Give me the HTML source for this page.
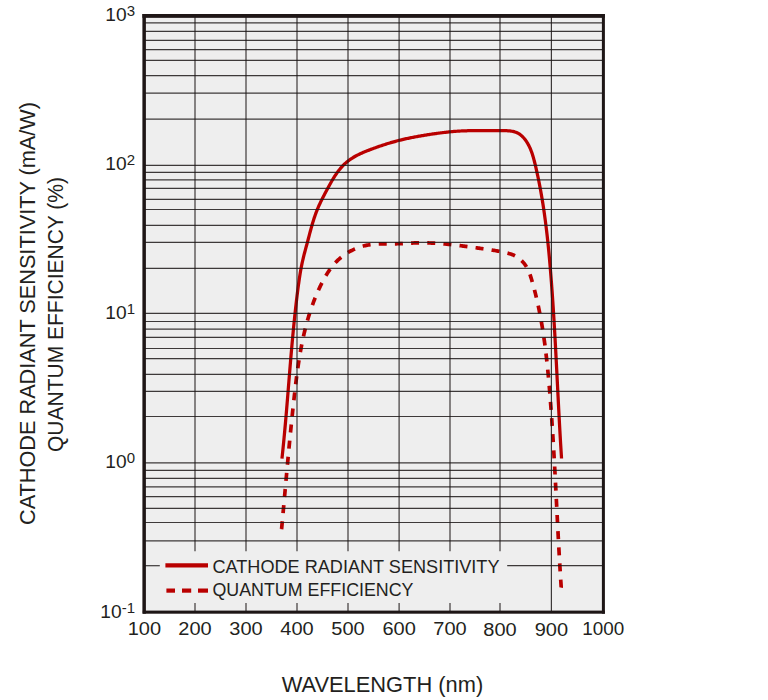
<!DOCTYPE html>
<html><head><meta charset="utf-8"><style>
html,body{margin:0;padding:0;background:#ffffff;width:768px;height:700px;overflow:hidden}
svg{display:block}
</style></head><body>
<svg width="768" height="700" viewBox="0 0 768 700">
<rect x="144.4" y="15.7" width="458.9" height="596.5" fill="#eeeeee"/>
<path d="M282.00 458.60 L282.07 457.60 L282.17 456.61 L282.28 455.61 L282.39 454.62 L282.49 453.62 L282.60 452.63 L282.70 451.63 L282.80 450.64 L282.91 449.64 L283.01 448.65 L283.11 447.65 L283.21 446.66 L283.31 445.66 L283.41 444.67 L283.51 443.67 L283.61 442.68 L283.70 441.68 L283.80 440.69 L283.90 439.69 L283.99 438.70 L284.09 437.70 L284.18 436.71 L284.28 435.71 L284.37 434.71 L284.46 433.72 L284.56 432.72 L284.65 431.73 L284.74 430.73 L284.83 429.74 L284.92 428.74 L285.01 427.74 L285.10 426.75 L285.19 425.75 L285.28 424.76 L285.37 423.76 L285.46 422.76 L285.55 421.77 L285.63 420.77 L285.72 419.77 L285.81 418.78 L285.89 417.78 L285.98 416.79 L286.06 415.79 L286.15 414.79 L286.24 413.80 L286.32 412.80 L286.40 411.80 L286.49 410.81 L286.57 409.81 L286.66 408.81 L286.74 407.82 L286.82 406.82 L286.91 405.82 L286.99 404.83 L287.07 403.83 L287.15 402.83 L287.24 401.84 L287.32 400.84 L287.40 399.84 L287.48 398.85 L287.56 397.85 L287.64 396.85 L287.73 395.86 L287.81 394.86 L287.89 393.86 L287.97 392.87 L288.05 391.87 L288.13 390.87 L288.21 389.88 L288.29 388.88 L288.37 387.88 L288.45 386.89 L288.53 385.89 L288.62 384.89 L288.70 383.90 L288.78 382.90 L288.86 381.90 L288.94 380.91 L289.02 379.91 L289.10 378.91 L289.18 377.92 L289.26 376.92 L289.34 375.92 L289.42 374.93 L289.50 373.93 L289.59 372.93 L289.67 371.94 L289.75 370.94 L289.83 369.94 L289.91 368.95 L289.99 367.95 L290.08 366.95 L290.16 365.96 L290.24 364.96 L290.33 363.96 L290.41 362.97 L290.49 361.97 L290.57 360.97 L290.66 359.98 L290.74 358.98 L290.83 357.98 L290.91 356.99 L291.00 355.99 L291.08 355.00 L291.17 354.00 L291.25 353.00 L291.34 352.01 L291.43 351.01 L291.51 350.01 L291.60 349.02 L291.69 348.02 L291.77 347.03 L291.86 346.03 L291.95 345.03 L292.04 344.04 L292.13 343.04 L292.22 342.05 L292.31 341.05 L292.40 340.05 L292.49 339.06 L292.58 338.06 L292.68 337.07 L292.77 336.07 L292.86 335.08 L292.96 334.08 L293.05 333.09 L293.15 332.09 L293.24 331.09 L293.34 330.10 L293.43 329.10 L293.53 328.11 L293.63 327.11 L293.73 326.12 L293.83 325.12 L293.93 324.13 L294.03 323.13 L294.13 322.14 L294.23 321.14 L294.33 320.15 L294.43 319.15 L294.54 318.16 L294.64 317.17 L294.74 316.17 L294.85 315.18 L294.96 314.18 L295.06 313.19 L295.17 312.19 L295.28 311.20 L295.39 310.21 L295.50 309.21 L295.61 308.22 L295.72 307.22 L295.83 306.23 L295.95 305.24 L296.06 304.24 L296.17 303.25 L296.29 302.26 L296.41 301.26 L296.52 300.27 L296.64 299.28 L296.76 298.28 L296.88 297.29 L297.00 296.30 L297.12 295.30 L297.25 294.31 L297.37 293.32 L297.50 292.33 L297.62 291.33 L297.75 290.34 L297.87 289.35 L298.00 288.36 L298.13 287.36 L298.26 286.37 L298.40 285.38 L298.53 284.39 L298.67 283.40 L298.81 282.41 L298.95 281.42 L299.09 280.43 L299.23 279.44 L299.38 278.45 L299.53 277.46 L299.68 276.47 L299.84 275.48 L300.00 274.50 L300.16 273.51 L300.32 272.52 L300.49 271.54 L300.67 270.55 L300.84 269.57 L301.02 268.59 L301.21 267.61 L301.40 266.63 L301.59 265.65 L301.79 264.67 L301.99 263.69 L302.20 262.71 L302.41 261.74 L302.63 260.76 L302.85 259.79 L303.08 258.81 L303.31 257.84 L303.55 256.87 L303.79 255.90 L304.03 254.93 L304.28 253.96 L304.53 253.00 L304.79 252.03 L305.04 251.06 L305.30 250.10 L305.56 249.13 L305.82 248.17 L306.08 247.20 L306.34 246.23 L306.61 245.27 L306.87 244.30 L307.13 243.34 L307.39 242.37 L307.65 241.40 L307.90 240.43 L308.16 239.47 L308.41 238.50 L308.67 237.53 L308.92 236.56 L309.17 235.60 L309.43 234.63 L309.68 233.66 L309.94 232.69 L310.20 231.73 L310.46 230.76 L310.72 229.80 L310.98 228.83 L311.25 227.87 L311.52 226.91 L311.79 225.95 L312.07 224.99 L312.34 224.03 L312.63 223.07 L312.91 222.12 L313.21 221.16 L313.50 220.21 L313.80 219.26 L314.11 218.31 L314.42 217.37 L314.74 216.42 L315.07 215.48 L315.40 214.54 L315.74 213.60 L316.08 212.67 L316.44 211.74 L316.80 210.81 L317.17 209.88 L317.54 208.96 L317.93 208.03 L318.32 207.12 L318.72 206.20 L319.13 205.29 L319.55 204.38 L319.97 203.47 L320.39 202.56 L320.83 201.66 L321.27 200.76 L321.71 199.86 L322.16 198.96 L322.61 198.07 L323.07 197.17 L323.53 196.28 L323.99 195.39 L324.46 194.50 L324.93 193.61 L325.40 192.73 L325.87 191.84 L326.35 190.96 L326.82 190.08 L327.29 189.19 L327.77 188.31 L328.25 187.43 L328.72 186.55 L329.20 185.68 L329.68 184.80 L330.16 183.93 L330.65 183.05 L331.14 182.19 L331.63 181.32 L332.13 180.46 L332.64 179.60 L333.15 178.74 L333.67 177.89 L334.19 177.05 L334.73 176.21 L335.27 175.37 L335.83 174.54 L336.39 173.72 L336.97 172.90 L337.56 172.09 L338.16 171.29 L338.77 170.49 L339.40 169.71 L340.04 168.93 L340.69 168.16 L341.35 167.40 L342.02 166.66 L342.71 165.92 L343.41 165.20 L344.12 164.49 L344.85 163.80 L345.58 163.12 L346.33 162.46 L347.09 161.81 L347.86 161.19 L348.65 160.57 L349.45 159.98 L350.25 159.40 L351.07 158.84 L351.90 158.30 L352.74 157.77 L353.59 157.25 L354.44 156.75 L355.31 156.26 L356.18 155.79 L357.06 155.32 L357.95 154.87 L358.85 154.43 L359.75 154.00 L360.66 153.58 L361.57 153.17 L362.49 152.76 L363.41 152.36 L364.33 151.97 L365.26 151.59 L366.19 151.21 L367.13 150.84 L368.06 150.47 L369.00 150.11 L369.94 149.75 L370.88 149.39 L371.82 149.04 L372.76 148.69 L373.71 148.34 L374.65 148.00 L375.59 147.66 L376.54 147.32 L377.48 146.98 L378.43 146.65 L379.38 146.32 L380.32 146.00 L381.27 145.68 L382.22 145.36 L383.17 145.04 L384.12 144.73 L385.08 144.43 L386.03 144.12 L386.98 143.82 L387.94 143.53 L388.89 143.24 L389.85 142.95 L390.81 142.66 L391.77 142.38 L392.73 142.11 L393.69 141.84 L394.65 141.57 L395.61 141.31 L396.57 141.05 L397.54 140.80 L398.50 140.55 L399.47 140.30 L400.43 140.06 L401.40 139.83 L402.37 139.60 L403.34 139.37 L404.31 139.15 L405.28 138.93 L406.26 138.71 L407.23 138.50 L408.21 138.29 L409.18 138.09 L410.16 137.89 L411.14 137.69 L412.11 137.49 L413.09 137.30 L414.07 137.11 L415.05 136.93 L416.04 136.75 L417.02 136.57 L418.00 136.39 L418.99 136.21 L419.97 136.04 L420.96 135.87 L421.94 135.70 L422.93 135.53 L423.92 135.37 L424.91 135.20 L425.90 135.04 L426.89 134.88 L427.88 134.72 L428.87 134.57 L429.87 134.41 L430.86 134.26 L431.85 134.11 L432.85 133.96 L433.84 133.82 L434.84 133.67 L435.84 133.53 L436.83 133.39 L437.83 133.26 L438.82 133.12 L439.82 132.99 L440.82 132.86 L441.82 132.74 L442.81 132.61 L443.81 132.49 L444.81 132.38 L445.81 132.27 L446.80 132.16 L447.80 132.05 L448.80 131.95 L449.80 131.85 L450.79 131.75 L451.79 131.66 L452.79 131.57 L453.78 131.48 L454.78 131.40 L455.77 131.33 L456.77 131.25 L457.76 131.19 L458.75 131.12 L459.75 131.06 L460.74 131.00 L461.73 130.95 L462.72 130.91 L463.71 130.86 L464.71 130.82 L465.70 130.79 L466.69 130.76 L467.68 130.73 L468.67 130.70 L469.66 130.68 L470.65 130.66 L471.64 130.64 L472.63 130.63 L473.62 130.61 L474.61 130.60 L475.60 130.60 L476.59 130.59 L477.58 130.59 L478.58 130.58 L479.57 130.58 L480.57 130.58 L481.56 130.59 L482.56 130.59 L483.56 130.59 L484.56 130.60 L485.56 130.60 L486.56 130.61 L487.56 130.61 L488.56 130.62 L489.57 130.62 L490.58 130.63 L491.59 130.63 L492.60 130.64 L493.61 130.64 L494.62 130.64 L495.64 130.65 L496.65 130.65 L497.67 130.65 L498.70 130.64 L499.72 130.64 L500.75 130.64 L501.78 130.63 L502.80 130.63 L503.83 130.63 L504.86 130.64 L505.88 130.67 L506.90 130.71 L507.91 130.77 L508.92 130.85 L509.92 130.95 L510.91 131.08 L511.90 131.24 L512.87 131.43 L513.83 131.66 L514.77 131.93 L515.69 132.23 L516.60 132.59 L517.48 132.98 L518.34 133.43 L519.16 133.93 L519.96 134.47 L520.74 135.05 L521.49 135.67 L522.21 136.33 L522.91 137.02 L523.58 137.75 L524.23 138.49 L524.85 139.27 L525.45 140.06 L526.03 140.87 L526.58 141.70 L527.12 142.53 L527.63 143.38 L528.12 144.24 L528.59 145.11 L529.04 145.99 L529.47 146.88 L529.89 147.78 L530.29 148.68 L530.67 149.60 L531.04 150.52 L531.39 151.45 L531.73 152.38 L532.06 153.33 L532.37 154.27 L532.68 155.23 L532.97 156.18 L533.26 157.15 L533.53 158.11 L533.80 159.08 L534.06 160.06 L534.31 161.03 L534.56 162.01 L534.80 162.99 L535.04 163.97 L535.28 164.95 L535.51 165.93 L535.74 166.91 L535.97 167.90 L536.20 168.88 L536.42 169.86 L536.64 170.84 L536.86 171.83 L537.08 172.81 L537.29 173.79 L537.51 174.78 L537.72 175.76 L537.93 176.74 L538.13 177.73 L538.34 178.71 L538.54 179.69 L538.74 180.68 L538.94 181.66 L539.13 182.65 L539.33 183.63 L539.52 184.62 L539.71 185.60 L539.90 186.59 L540.09 187.57 L540.27 188.56 L540.45 189.54 L540.63 190.53 L540.81 191.51 L540.99 192.50 L541.16 193.49 L541.34 194.47 L541.51 195.46 L541.68 196.44 L541.85 197.43 L542.01 198.42 L542.18 199.40 L542.34 200.39 L542.50 201.38 L542.66 202.37 L542.82 203.35 L542.97 204.34 L543.13 205.33 L543.28 206.32 L543.43 207.31 L543.58 208.29 L543.73 209.28 L543.88 210.27 L544.02 211.26 L544.16 212.25 L544.31 213.24 L544.45 214.23 L544.58 215.22 L544.72 216.21 L544.86 217.19 L544.99 218.18 L545.13 219.17 L545.26 220.16 L545.39 221.15 L545.52 222.14 L545.64 223.13 L545.77 224.12 L545.89 225.12 L546.02 226.11 L546.14 227.10 L546.26 228.09 L546.38 229.08 L546.50 230.07 L546.62 231.06 L546.73 232.05 L546.85 233.04 L546.96 234.04 L547.08 235.03 L547.19 236.02 L547.30 237.01 L547.41 238.00 L547.51 239.00 L547.62 239.99 L547.73 240.98 L547.83 241.97 L547.94 242.97 L548.04 243.96 L548.14 244.95 L548.24 245.94 L548.34 246.94 L548.44 247.93 L548.54 248.92 L548.64 249.92 L548.74 250.91 L548.83 251.90 L548.93 252.90 L549.02 253.89 L549.11 254.89 L549.21 255.88 L549.30 256.87 L549.39 257.87 L549.48 258.86 L549.57 259.86 L549.66 260.85 L549.74 261.85 L549.83 262.84 L549.92 263.84 L550.00 264.83 L550.09 265.83 L550.17 266.82 L550.26 267.82 L550.34 268.81 L550.42 269.81 L550.51 270.80 L550.59 271.80 L550.67 272.79 L550.75 273.79 L550.83 274.79 L550.91 275.78 L550.99 276.78 L551.07 277.77 L551.15 278.77 L551.22 279.77 L551.30 280.76 L551.38 281.76 L551.45 282.76 L551.53 283.75 L551.60 284.75 L551.68 285.75 L551.75 286.74 L551.83 287.74 L551.90 288.74 L551.97 289.73 L552.04 290.73 L552.12 291.73 L552.19 292.73 L552.26 293.72 L552.33 294.72 L552.40 295.72 L552.47 296.72 L552.54 297.71 L552.61 298.71 L552.67 299.71 L552.74 300.71 L552.81 301.70 L552.88 302.70 L552.94 303.70 L553.01 304.70 L553.07 305.70 L553.14 306.69 L553.20 307.69 L553.27 308.69 L553.33 309.69 L553.40 310.69 L553.46 311.69 L553.52 312.68 L553.59 313.68 L553.65 314.68 L553.71 315.68 L553.77 316.68 L553.83 317.68 L553.90 318.68 L553.96 319.68 L554.02 320.67 L554.08 321.67 L554.14 322.67 L554.20 323.67 L554.26 324.67 L554.31 325.67 L554.37 326.67 L554.43 327.67 L554.49 328.67 L554.55 329.67 L554.61 330.66 L554.66 331.66 L554.72 332.66 L554.78 333.66 L554.83 334.66 L554.89 335.66 L554.95 336.66 L555.00 337.66 L555.06 338.66 L555.11 339.66 L555.17 340.66 L555.22 341.66 L555.28 342.66 L555.33 343.66 L555.39 344.66 L555.44 345.66 L555.49 346.66 L555.55 347.65 L555.60 348.65 L555.66 349.65 L555.71 350.65 L555.76 351.65 L555.82 352.65 L555.87 353.65 L555.92 354.65 L555.97 355.65 L556.03 356.65 L556.08 357.65 L556.13 358.65 L556.18 359.65 L556.23 360.65 L556.29 361.65 L556.34 362.65 L556.39 363.65 L556.44 364.65 L556.49 365.65 L556.54 366.65 L556.59 367.65 L556.65 368.65 L556.70 369.65 L556.75 370.65 L556.80 371.65 L556.85 372.65 L556.90 373.65 L556.95 374.65 L557.00 375.65 L557.05 376.65 L557.10 377.64 L557.15 378.64 L557.20 379.64 L557.25 380.64 L557.31 381.64 L557.36 382.64 L557.41 383.64 L557.46 384.64 L557.51 385.64 L557.56 386.64 L557.61 387.64 L557.66 388.64 L557.71 389.64 L557.76 390.64 L557.81 391.64 L557.86 392.64 L557.91 393.64 L557.96 394.63 L558.01 395.63 L558.07 396.63 L558.12 397.63 L558.17 398.63 L558.22 399.63 L558.27 400.63 L558.32 401.63 L558.37 402.63 L558.42 403.63 L558.48 404.62 L558.53 405.62 L558.58 406.62 L558.63 407.62 L558.68 408.62 L558.74 409.62 L558.79 410.62 L558.84 411.61 L558.89 412.61 L558.95 413.61 L559.00 414.61 L559.05 415.61 L559.10 416.61 L559.16 417.60 L559.21 418.60 L559.27 419.60 L559.32 420.60 L559.37 421.60 L559.43 422.59 L559.48 423.59 L559.54 424.59 L559.59 425.59 L559.65 426.58 L559.70 427.58 L559.76 428.58 L559.81 429.58 L559.87 430.57 L559.93 431.57 L559.98 432.57 L560.04 433.57 L560.10 434.56 L560.15 435.56 L560.21 436.56 L560.27 437.55 L560.33 438.55 L560.38 439.55 L560.44 440.54 L560.50 441.54 L560.56 442.54 L560.62 443.53 L560.68 444.53 L560.74 445.53 L560.80 446.52 L560.86 447.52 L560.92 448.51 L560.98 449.51 L561.04 450.51 L561.11 451.50 L561.17 452.50 L561.23 453.49 L561.29 454.49 L561.36 455.48 L561.42 456.48 L561.48 457.47 L561.50 458.50" fill="none" stroke="#b90000" stroke-width="3.25" stroke-linejoin="round"/>
<path d="M281.50 529.50 L281.64 528.53 L281.74 527.53 L281.83 526.53 L281.92 525.53 L282.01 524.53 L282.11 523.53 L282.20 522.53 L282.29 521.53 L282.38 520.53 L282.47 519.53 L282.56 518.53 L282.65 517.53 L282.75 516.53 L282.84 515.54 L282.93 514.54 L283.02 513.54 L283.11 512.54 L283.20 511.54 L283.29 510.54 L283.38 509.55 L283.47 508.55 L283.56 507.55 L283.65 506.55 L283.74 505.55 L283.83 504.56 L283.92 503.56 L284.01 502.56 L284.10 501.56 L284.19 500.57 L284.28 499.57 L284.37 498.57 L284.46 497.57 L284.55 496.58 L284.64 495.58 L284.73 494.58 L284.82 493.58 L284.91 492.59 L285.00 491.59 L285.09 490.59 L285.18 489.60 L285.27 488.60 L285.36 487.60 L285.45 486.61 L285.54 485.61 L285.63 484.61 L285.72 483.62 L285.81 482.62 L285.90 481.63 L285.99 480.63 L286.08 479.63 L286.17 478.64 L286.26 477.64 L286.35 476.65 L286.44 475.65 L286.53 474.65 L286.62 473.66 L286.71 472.66 L286.80 471.67 L286.89 470.67 L286.98 469.67 L287.07 468.68 L287.16 467.68 L287.25 466.69 L287.35 465.69 L287.44 464.70 L287.53 463.70 L287.62 462.70 L287.71 461.71 L287.80 460.71 L287.90 459.72 L287.99 458.72 L288.08 457.73 L288.17 456.73 L288.27 455.74 L288.36 454.74 L288.45 453.74 L288.55 452.75 L288.64 451.75 L288.73 450.76 L288.83 449.76 L288.92 448.77 L289.02 447.77 L289.11 446.78 L289.21 445.78 L289.30 444.79 L289.40 443.79 L289.49 442.80 L289.59 441.80 L289.68 440.80 L289.78 439.81 L289.88 438.81 L289.97 437.82 L290.07 436.82 L290.17 435.83 L290.26 434.83 L290.36 433.84 L290.46 432.84 L290.56 431.85 L290.66 430.85 L290.76 429.86 L290.86 428.86 L290.96 427.86 L291.05 426.87 L291.16 425.87 L291.26 424.88 L291.36 423.88 L291.46 422.89 L291.56 421.89 L291.66 420.89 L291.76 419.90 L291.87 418.90 L291.97 417.91 L292.07 416.91 L292.18 415.92 L292.28 414.92 L292.38 413.92 L292.49 412.93 L292.59 411.93 L292.70 410.94 L292.80 409.94 L292.91 408.94 L293.02 407.95 L293.12 406.95 L293.23 405.95 L293.34 404.96 L293.45 403.96 L293.56 402.97 L293.67 401.97 L293.78 400.97 L293.89 399.98 L294.00 398.98 L294.11 397.98 L294.22 396.99 L294.33 395.99 L294.44 394.99 L294.56 393.99 L294.67 393.00 L294.78 392.00 L294.90 391.00 L295.01 390.01 L295.13 389.01 L295.24 388.01 L295.36 387.02 L295.48 386.02 L295.60 385.02 L295.72 384.02 L295.84 383.03 L295.96 382.03 L296.09 381.04 L296.21 380.04 L296.34 379.04 L296.46 378.05 L296.59 377.05 L296.72 376.06 L296.85 375.06 L296.98 374.07 L297.12 373.07 L297.25 372.08 L297.39 371.08 L297.52 370.09 L297.66 369.10 L297.80 368.10 L297.95 367.11 L298.09 366.12 L298.24 365.13 L298.38 364.13 L298.53 363.14 L298.68 362.15 L298.84 361.16 L298.99 360.17 L299.15 359.18 L299.31 358.19 L299.47 357.20 L299.63 356.22 L299.80 355.23 L299.97 354.24 L300.14 353.25 L300.31 352.27 L300.49 351.28 L300.66 350.30 L300.84 349.31 L301.02 348.33 L301.21 347.35 L301.40 346.37 L301.59 345.38 L301.78 344.40 L301.97 343.42 L302.17 342.44 L302.37 341.46 L302.57 340.49 L302.78 339.51 L302.99 338.53 L303.20 337.56 L303.42 336.58 L303.63 335.61 L303.86 334.63 L304.08 333.66 L304.31 332.69 L304.54 331.72 L304.77 330.75 L305.01 329.78 L305.25 328.81 L305.49 327.84 L305.74 326.88 L305.99 325.91 L306.24 324.95 L306.50 323.99 L306.76 323.02 L307.03 322.06 L307.29 321.10 L307.57 320.14 L307.84 319.18 L308.12 318.23 L308.41 317.27 L308.69 316.32 L308.98 315.36 L309.28 314.41 L309.58 313.46 L309.88 312.51 L310.19 311.56 L310.50 310.61 L310.82 309.66 L311.14 308.72 L311.46 307.77 L311.79 306.83 L312.12 305.89 L312.46 304.95 L312.80 304.01 L313.15 303.07 L313.50 302.13 L313.85 301.20 L314.21 300.26 L314.58 299.33 L314.94 298.40 L315.32 297.47 L315.70 296.54 L316.08 295.62 L316.47 294.69 L316.86 293.77 L317.26 292.84 L317.66 291.92 L318.07 291.00 L318.48 290.08 L318.90 289.17 L319.32 288.25 L319.75 287.34 L320.19 286.43 L320.63 285.52 L321.07 284.61 L321.52 283.70 L321.98 282.80 L322.44 281.90 L322.91 281.00 L323.38 280.11 L323.87 279.22 L324.35 278.33 L324.85 277.45 L325.36 276.57 L325.87 275.70 L326.39 274.84 L326.92 273.98 L327.46 273.13 L328.00 272.28 L328.56 271.44 L329.12 270.61 L329.70 269.79 L330.28 268.97 L330.87 268.17 L331.48 267.37 L332.09 266.58 L332.72 265.80 L333.35 265.03 L334.00 264.27 L334.66 263.53 L335.33 262.79 L336.01 262.06 L336.71 261.35 L337.41 260.65 L338.13 259.96 L338.86 259.28 L339.61 258.62 L340.37 257.97 L341.13 257.33 L341.92 256.70 L342.71 256.09 L343.51 255.50 L344.32 254.91 L345.15 254.34 L345.98 253.79 L346.83 253.24 L347.68 252.72 L348.54 252.20 L349.42 251.71 L350.30 251.22 L351.18 250.75 L352.08 250.30 L352.98 249.86 L353.90 249.44 L354.81 249.03 L355.74 248.64 L356.67 248.26 L357.60 247.90 L358.55 247.55 L359.49 247.22 L360.45 246.91 L361.40 246.61 L362.36 246.33 L363.33 246.07 L364.30 245.82 L365.27 245.59 L366.24 245.38 L367.22 245.19 L368.20 245.01 L369.18 244.84 L370.17 244.70 L371.16 244.56 L372.15 244.45 L373.14 244.34 L374.13 244.25 L375.12 244.16 L376.12 244.09 L377.12 244.03 L378.12 243.98 L379.12 243.94 L380.12 243.90 L381.12 243.87 L382.13 243.85 L383.13 243.84 L384.14 243.82 L385.15 243.82 L386.15 243.81 L387.16 243.81 L388.17 243.81 L389.18 243.81 L390.19 243.81 L391.20 243.81 L392.21 243.81 L393.22 243.81 L394.22 243.81 L395.23 243.80 L396.24 243.79 L397.25 243.77 L398.26 243.74 L399.26 243.72 L400.27 243.68 L401.27 243.64 L402.28 243.59 L403.28 243.54 L404.29 243.49 L405.29 243.44 L406.29 243.38 L407.29 243.33 L408.30 243.27 L409.30 243.21 L410.30 243.16 L411.30 243.11 L412.30 243.06 L413.30 243.01 L414.30 242.97 L415.30 242.94 L416.30 242.91 L417.29 242.88 L418.29 242.86 L419.29 242.85 L420.29 242.84 L421.29 242.84 L422.29 242.84 L423.29 242.84 L424.28 242.85 L425.28 242.87 L426.28 242.89 L427.28 242.91 L428.27 242.94 L429.27 242.98 L430.27 243.01 L431.26 243.05 L432.26 243.10 L433.26 243.15 L434.25 243.20 L435.25 243.26 L436.25 243.32 L437.24 243.39 L438.24 243.45 L439.23 243.53 L440.23 243.60 L441.23 243.68 L442.22 243.76 L443.22 243.84 L444.21 243.93 L445.21 244.02 L446.20 244.11 L447.20 244.21 L448.19 244.31 L449.19 244.41 L450.18 244.51 L451.18 244.62 L452.17 244.73 L453.17 244.84 L454.16 244.95 L455.16 245.06 L456.15 245.18 L457.15 245.30 L458.14 245.42 L459.14 245.54 L460.13 245.66 L461.13 245.79 L462.12 245.92 L463.12 246.04 L464.11 246.17 L465.11 246.30 L466.10 246.43 L467.10 246.56 L468.09 246.70 L469.09 246.83 L470.08 246.97 L471.07 247.10 L472.07 247.24 L473.06 247.37 L474.06 247.51 L475.05 247.65 L476.05 247.78 L477.04 247.92 L478.04 248.06 L479.04 248.19 L480.03 248.33 L481.03 248.47 L482.02 248.60 L483.02 248.74 L484.01 248.88 L485.01 249.02 L486.00 249.16 L486.99 249.30 L487.99 249.45 L488.98 249.59 L489.98 249.74 L490.97 249.89 L491.96 250.05 L492.95 250.21 L493.94 250.37 L494.93 250.53 L495.92 250.70 L496.91 250.88 L497.89 251.06 L498.88 251.24 L499.87 251.43 L500.85 251.63 L501.83 251.83 L502.81 252.04 L503.79 252.25 L504.77 252.47 L505.75 252.70 L506.72 252.93 L507.70 253.17 L508.67 253.43 L509.64 253.69 L510.59 253.98 L511.53 254.30 L512.46 254.65 L513.37 255.04 L514.27 255.45 L515.14 255.90 L516.00 256.38 L516.84 256.89 L517.66 257.42 L518.46 257.99 L519.24 258.58 L520.00 259.19 L520.74 259.84 L521.45 260.50 L522.15 261.19 L522.82 261.91 L523.47 262.64 L524.09 263.40 L524.69 264.17 L525.26 264.97 L525.81 265.78 L526.33 266.61 L526.83 267.46 L527.30 268.32 L527.75 269.20 L528.18 270.09 L528.58 271.00 L528.97 271.91 L529.34 272.84 L529.70 273.78 L530.04 274.72 L530.37 275.67 L530.68 276.63 L530.99 277.59 L531.29 278.56 L531.58 279.52 L531.87 280.50 L532.15 281.47 L532.43 282.44 L532.70 283.41 L532.98 284.39 L533.25 285.36 L533.51 286.34 L533.78 287.31 L534.04 288.28 L534.30 289.26 L534.55 290.24 L534.81 291.21 L535.06 292.19 L535.30 293.16 L535.55 294.14 L535.79 295.12 L536.03 296.10 L536.26 297.07 L536.50 298.05 L536.73 299.03 L536.96 300.01 L537.18 300.99 L537.40 301.97 L537.62 302.95 L537.84 303.93 L538.06 304.91 L538.27 305.89 L538.48 306.87 L538.68 307.85 L538.89 308.83 L539.09 309.82 L539.29 310.80 L539.49 311.78 L539.69 312.76 L539.88 313.75 L540.07 314.73 L540.26 315.71 L540.44 316.70 L540.63 317.68 L540.81 318.67 L540.99 319.65 L541.17 320.64 L541.34 321.62 L541.51 322.61 L541.68 323.59 L541.85 324.58 L542.02 325.57 L542.19 326.55 L542.35 327.54 L542.51 328.53 L542.67 329.52 L542.82 330.50 L542.98 331.49 L543.13 332.48 L543.28 333.47 L543.43 334.46 L543.58 335.44 L543.73 336.43 L543.87 337.42 L544.01 338.41 L544.15 339.40 L544.29 340.39 L544.43 341.38 L544.56 342.37 L544.70 343.36 L544.83 344.35 L544.96 345.34 L545.09 346.34 L545.22 347.33 L545.34 348.32 L545.47 349.31 L545.59 350.30 L545.71 351.29 L545.83 352.29 L545.95 353.28 L546.07 354.27 L546.18 355.26 L546.30 356.26 L546.41 357.25 L546.52 358.24 L546.63 359.24 L546.74 360.23 L546.85 361.22 L546.96 362.22 L547.06 363.21 L547.17 364.21 L547.27 365.20 L547.37 366.19 L547.48 367.19 L547.58 368.18 L547.68 369.18 L547.77 370.17 L547.87 371.17 L547.97 372.16 L548.06 373.16 L548.16 374.15 L548.25 375.15 L548.34 376.15 L548.44 377.14 L548.53 378.14 L548.62 379.13 L548.71 380.13 L548.79 381.12 L548.88 382.12 L548.97 383.12 L549.06 384.11 L549.14 385.11 L549.23 386.11 L549.31 387.10 L549.40 388.10 L549.48 389.10 L549.56 390.09 L549.64 391.09 L549.73 392.09 L549.81 393.08 L549.89 394.08 L549.97 395.08 L550.05 396.08 L550.13 397.07 L550.21 398.07 L550.28 399.07 L550.36 400.07 L550.44 401.06 L550.52 402.06 L550.59 403.06 L550.67 404.06 L550.74 405.05 L550.82 406.05 L550.89 407.05 L550.97 408.05 L551.04 409.05 L551.11 410.04 L551.18 411.04 L551.26 412.04 L551.33 413.04 L551.40 414.04 L551.47 415.04 L551.54 416.03 L551.61 417.03 L551.68 418.03 L551.75 419.03 L551.82 420.03 L551.88 421.03 L551.95 422.03 L552.02 423.03 L552.09 424.02 L552.15 425.02 L552.22 426.02 L552.28 427.02 L552.35 428.02 L552.41 429.02 L552.48 430.02 L552.54 431.02 L552.61 432.02 L552.67 433.02 L552.73 434.02 L552.80 435.02 L552.86 436.01 L552.92 437.01 L552.98 438.01 L553.04 439.01 L553.11 440.01 L553.17 441.01 L553.23 442.01 L553.29 443.01 L553.35 444.01 L553.41 445.01 L553.47 446.01 L553.52 447.01 L553.58 448.01 L553.64 449.01 L553.70 450.01 L553.76 451.01 L553.82 452.01 L553.87 453.01 L553.93 454.01 L553.99 455.01 L554.04 456.01 L554.10 457.01 L554.16 458.01 L554.21 459.01 L554.27 460.01 L554.32 461.01 L554.38 462.01 L554.44 463.01 L554.49 464.01 L554.54 465.01 L554.60 466.01 L554.65 467.01 L554.71 468.01 L554.76 469.01 L554.82 470.01 L554.87 471.01 L554.92 472.01 L554.98 473.01 L555.03 474.01 L555.08 475.01 L555.13 476.02 L555.19 477.02 L555.24 478.02 L555.29 479.02 L555.34 480.02 L555.40 481.02 L555.45 482.02 L555.50 483.02 L555.55 484.02 L555.60 485.02 L555.66 486.02 L555.71 487.02 L555.76 488.02 L555.81 489.02 L555.86 490.02 L555.91 491.02 L555.96 492.02 L556.02 493.02 L556.07 494.02 L556.12 495.02 L556.17 496.02 L556.22 497.03 L556.27 498.03 L556.32 499.03 L556.37 500.03 L556.42 501.03 L556.47 502.03 L556.52 503.03 L556.57 504.03 L556.62 505.03 L556.67 506.03 L556.73 507.03 L556.78 508.03 L556.83 509.03 L556.88 510.03 L556.93 511.03 L556.98 512.03 L557.03 513.03 L557.08 514.03 L557.13 515.03 L557.18 516.03 L557.23 517.03 L557.28 518.03 L557.33 519.03 L557.38 520.03 L557.44 521.03 L557.49 522.04 L557.54 523.04 L557.59 524.04 L557.64 525.04 L557.69 526.04 L557.74 527.04 L557.79 528.04 L557.85 529.04 L557.90 530.04 L557.95 531.04 L558.00 532.04 L558.05 533.04 L558.11 534.04 L558.16 535.04 L558.21 536.04 L558.26 537.04 L558.32 538.04 L558.37 539.03 L558.42 540.03 L558.48 541.03 L558.53 542.03 L558.58 543.03 L558.64 544.03 L558.69 545.03 L558.75 546.03 L558.80 547.03 L558.85 548.03 L558.91 549.03 L558.96 550.03 L559.02 551.03 L559.07 552.03 L559.13 553.03 L559.19 554.03 L559.24 555.03 L559.30 556.03 L559.35 557.02 L559.41 558.02 L559.47 559.02 L559.53 560.02 L559.58 561.02 L559.64 562.02 L559.70 563.02 L559.76 564.02 L559.82 565.02 L559.87 566.01 L559.93 567.01 L559.99 568.01 L560.05 569.01 L560.11 570.01 L560.17 571.01 L560.23 572.00 L560.29 573.00 L560.36 574.00 L560.42 575.00 L560.48 576.00 L560.54 577.00 L560.60 577.99 L560.67 578.99 L560.73 579.99 L560.79 580.99 L560.86 581.99 L560.92 582.98 L560.99 583.98 L561.05 584.98 L561.12 585.98 L561.18 586.97 L561.00 588.00" fill="none" stroke="#b90000" stroke-width="3.7" stroke-dasharray="8 8.188" stroke-dashoffset="-0.3"/>
<g stroke="#1a1515" stroke-opacity="0.84" stroke-width="1.20"><line x1="144.4" y1="22.90" x2="603.3" y2="22.90"/><line x1="144.4" y1="31.40" x2="603.3" y2="31.40"/><line x1="144.4" y1="40.40" x2="603.3" y2="40.40"/><line x1="144.4" y1="49.70" x2="603.3" y2="49.70"/><line x1="144.4" y1="60.30" x2="603.3" y2="60.30"/><line x1="144.4" y1="75.70" x2="603.3" y2="75.70"/><line x1="144.4" y1="93.20" x2="603.3" y2="93.20"/><line x1="144.4" y1="119.10" x2="603.3" y2="119.10"/><line x1="144.4" y1="165.46" x2="603.3" y2="165.46"/><line x1="144.4" y1="172.30" x2="603.3" y2="172.30"/><line x1="144.4" y1="179.90" x2="603.3" y2="179.90"/><line x1="144.4" y1="188.30" x2="603.3" y2="188.30"/><line x1="144.4" y1="199.30" x2="603.3" y2="199.30"/><line x1="144.4" y1="209.50" x2="603.3" y2="209.50"/><line x1="144.4" y1="225.40" x2="603.3" y2="225.40"/><line x1="144.4" y1="242.30" x2="603.3" y2="242.30"/><line x1="144.4" y1="268.40" x2="603.3" y2="268.40"/><line x1="144.4" y1="313.30" x2="603.3" y2="313.30"/><line x1="144.4" y1="321.50" x2="603.3" y2="321.50"/><line x1="144.4" y1="329.20" x2="603.3" y2="329.20"/><line x1="144.4" y1="337.30" x2="603.3" y2="337.30"/><line x1="144.4" y1="348.50" x2="603.3" y2="348.50"/><line x1="144.4" y1="358.70" x2="603.3" y2="358.70"/><line x1="144.4" y1="374.40" x2="603.3" y2="374.40"/><line x1="144.4" y1="391.30" x2="603.3" y2="391.30"/><line x1="144.4" y1="416.50" x2="603.3" y2="416.50"/><line x1="144.4" y1="462.90" x2="603.3" y2="462.90"/><line x1="144.4" y1="470.40" x2="603.3" y2="470.40"/><line x1="144.4" y1="478.30" x2="603.3" y2="478.30"/><line x1="144.4" y1="486.90" x2="603.3" y2="486.90"/><line x1="144.4" y1="496.70" x2="603.3" y2="496.70"/><line x1="144.4" y1="508.40" x2="603.3" y2="508.40"/><line x1="144.4" y1="522.50" x2="603.3" y2="522.50"/><line x1="144.4" y1="540.90" x2="603.3" y2="540.90"/><line x1="195.00" y1="15.7" x2="195.00" y2="551.3"/><line x1="195.00" y1="603.0" x2="195.00" y2="612.2"/><line x1="246.00" y1="15.7" x2="246.00" y2="551.3"/><line x1="246.00" y1="603.0" x2="246.00" y2="612.2"/><line x1="297.00" y1="15.7" x2="297.00" y2="551.3"/><line x1="297.00" y1="603.0" x2="297.00" y2="612.2"/><line x1="348.00" y1="15.7" x2="348.00" y2="551.3"/><line x1="348.00" y1="603.0" x2="348.00" y2="612.2"/><line x1="399.10" y1="15.7" x2="399.10" y2="551.3"/><line x1="399.10" y1="603.0" x2="399.10" y2="612.2"/><line x1="450.00" y1="15.7" x2="450.00" y2="551.3"/><line x1="450.00" y1="603.0" x2="450.00" y2="612.2"/><line x1="500.00" y1="15.7" x2="500.00" y2="551.3"/><line x1="500.00" y1="603.0" x2="500.00" y2="612.2"/><line x1="551.40" y1="15.7" x2="551.40" y2="612.2"/><line x1="144.4" y1="565.70" x2="159.8" y2="565.70"/><line x1="507.2" y1="565.70" x2="603.3" y2="565.70"/></g>
<g fill="#1e1616"><rect x="142.4" y="14.0" width="462.4" height="3.85"/><rect x="142.4" y="14" width="3.5" height="599.7"/><rect x="601.9" y="14" width="3.0" height="599.7"/><rect x="142.8" y="610.6" width="462.1" height="3.1"/></g>
<line x1="165.4" y1="565.4" x2="208" y2="565.4" stroke="#b90000" stroke-width="4.4"/>
<g fill="#b90000"><rect x="166.4" y="588.5" width="8.6" height="4.2"/><rect x="182" y="588.5" width="9.2" height="4.2"/><rect x="198" y="588.5" width="10" height="4.2"/></g>
<g fill="#231f20" font-family="Liberation Sans" font-size="18">
<text x="212.5" y="572.8" textLength="287" lengthAdjust="spacingAndGlyphs">CATHODE RADIANT SENSITIVITY</text>
<text x="212.5" y="595.6" textLength="201" lengthAdjust="spacingAndGlyphs">QUANTUM EFFICIENCY</text>
<text x="135" y="20.8" text-anchor="end" font-size="19.2">10<tspan font-size="15" dy="-4.6">3</tspan></text>
<text x="135" y="169.5" text-anchor="end" font-size="19.2">10<tspan font-size="15" dy="-4.6">2</tspan></text>
<text x="135" y="318.9" text-anchor="end" font-size="19.2">10<tspan font-size="15" dy="-4.6">1</tspan></text>
<text x="135" y="467.9" text-anchor="end" font-size="19.2">10<tspan font-size="15" dy="-4.6">0</tspan></text>
<text x="135" y="617.6" text-anchor="end" font-size="19.2">10<tspan font-size="15" dy="-4.6">-1</tspan></text>
<text x="127.7" y="634.7" textLength="33.4" lengthAdjust="spacingAndGlyphs">100</text>
<text x="178.3" y="634.7" textLength="33.4" lengthAdjust="spacingAndGlyphs">200</text>
<text x="229.3" y="634.7" textLength="33.4" lengthAdjust="spacingAndGlyphs">300</text>
<text x="280.3" y="634.7" textLength="33.4" lengthAdjust="spacingAndGlyphs">400</text>
<text x="331.3" y="634.7" textLength="33.4" lengthAdjust="spacingAndGlyphs">500</text>
<text x="382.4" y="634.7" textLength="33.4" lengthAdjust="spacingAndGlyphs">600</text>
<text x="433.3" y="634.7" textLength="33.4" lengthAdjust="spacingAndGlyphs">700</text>
<text x="483.3" y="636.0" textLength="33.4" lengthAdjust="spacingAndGlyphs">800</text>
<text x="534.7" y="636.0" textLength="33.4" lengthAdjust="spacingAndGlyphs">900</text>
<text x="582.3" y="634.7" textLength="42.0" lengthAdjust="spacingAndGlyphs">1000</text>
</g>
<g fill="#231f20" font-family="Liberation Sans" font-size="22">
<text x="281.7" y="692.3" textLength="201.5" lengthAdjust="spacingAndGlyphs">WAVELENGTH (nm)</text>
<text transform="translate(35.3 525) rotate(-90)" x="0" y="0" textLength="423" lengthAdjust="spacingAndGlyphs">CATHODE RADIANT SENSITIVITY (mA/W)</text>
<text transform="translate(63 452.0) rotate(-90)" x="0" y="0" textLength="275" lengthAdjust="spacingAndGlyphs">QUANTUM EFFICIENCY (%)</text>
</g>
</svg>
</body></html>
